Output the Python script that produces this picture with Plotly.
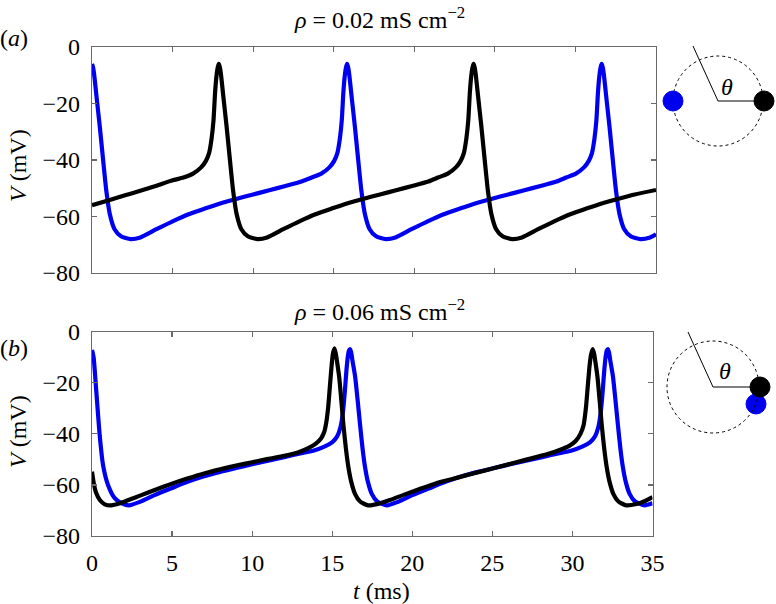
import plotly.graph_objects as go

# ---------------- data ----------------
# Panel (a): rho = 0.02 mS cm^-2
ta_blue = [0, 0.07, 0.15, 0.27, 0.48, 0.69, 0.89, 1.1, 1.4, 1.8, 2.4,
           3.0, 4.0, 5.0, 6.0, 7.0, 8.0, 9.0, 10.0, 11.0, 12.0, 13.0,
           13.63, 14.23, 14.73, 15.03, 15.23, 15.38, 15.5, 15.6, 15.68, 15.76, 15.83,
           15.9, 15.98, 16.1, 16.31, 16.52, 16.72, 16.93, 17.23, 17.63, 18.23,
           18.83, 19.83, 20.83, 21.83, 22.83, 23.83, 24.83, 25.83, 26.83, 27.83, 28.83,
           29.43, 30.03, 30.53, 30.83, 31.03, 31.18, 31.3, 31.4, 31.48, 31.56, 31.63,
           31.7, 31.78, 31.9, 32.11, 32.32, 32.52, 32.73, 33.03, 33.43, 34.03,
           34.63, 35.0]
va_blue = [-6, -7.3, -10.5, -17, -28, -40, -51, -59, -64.5, -67, -68,
           -67.4, -64.5, -61.7, -59.2, -57.2, -55.3, -53.7, -52.2, -50.7, -49.2, -47.6,
           -46.2, -44.8, -42.6, -40.3, -37.5, -32.5, -26, -16, -10.5, -7.3, -6,
           -7.3, -10.5, -17, -28, -40, -51, -59, -64.5, -67, -68,
           -67.4, -64.5, -61.7, -59.2, -57.2, -55.3, -53.7, -52.2, -50.7, -49.2, -47.6,
           -46.2, -44.8, -42.6, -40.3, -37.5, -32.5, -26, -16, -10.5, -7.3, -6,
           -7.3, -10.5, -17, -28, -40, -51, -59, -64.5, -67, -68,
           -67.4, -66.3]

ta_black = [0, 1.0, 2.0, 3.0, 4.0, 5.0,
            5.67, 6.27, 6.77, 7.07, 7.27, 7.42, 7.54, 7.64, 7.72, 7.8, 7.87,
            7.94, 8.02, 8.14, 8.35, 8.56, 8.76, 8.97, 9.27, 9.67, 10.27,
            10.87, 11.87, 12.87, 13.87, 14.87, 15.87, 16.87, 17.87, 18.87, 19.87, 20.87,
            21.48, 22.08, 22.58, 22.88, 23.08, 23.23, 23.35, 23.45, 23.53, 23.61, 23.68,
            23.75, 23.83, 23.95, 24.16, 24.37, 24.57, 24.78, 25.08, 25.48, 26.08,
            26.68, 27.68, 28.68, 29.68, 30.68, 31.68, 32.68, 33.68, 35.0]
va_black = [-56, -54.3, -52.6, -50.9, -49.1, -47.2,
            -46.2, -44.8, -42.6, -40.3, -37.5, -32.5, -26, -16, -10.5, -7.3, -6,
            -7.3, -10.5, -17, -28, -40, -51, -59, -64.5, -67, -68,
            -67.4, -64.5, -61.7, -59.2, -57.2, -55.3, -53.7, -52.2, -50.7, -49.2, -47.6,
            -46.2, -44.8, -42.6, -40.3, -37.5, -32.5, -26, -16, -10.5, -7.3, -6,
            -7.3, -10.5, -17, -28, -40, -51, -59, -64.5, -67, -68,
            -67.4, -64.5, -61.7, -59.2, -57.2, -55.3, -53.7, -52.2, -50.6]

# Panel (b): rho = 0.06 mS cm^-2
tb_blue = [0, 0.1, 0.27, 0.48, 0.69, 1.0, 1.42, 1.8, 2.3,
           3.0, 3.9, 5.0, 6.0, 7.0, 8.0, 9.0, 10.0, 11.0, 12.0, 13.0,
           13.81, 14.51, 15.01, 15.31, 15.51, 15.66, 15.78, 15.89, 15.98, 16.05, 16.11,
           16.18, 16.27, 16.43, 16.59, 16.74, 16.9, 17.05, 17.23, 17.47, 17.81, 18.41,
           19.11, 20.01, 21.11, 22.11, 23.11, 24.11, 25.11, 26.11, 27.11, 28.11, 29.11,
           29.91, 30.61, 31.11, 31.41, 31.61, 31.76, 31.88, 31.99, 32.08, 32.15, 32.21,
           32.28, 32.37, 32.53, 32.69, 32.84, 33.0, 33.15, 33.33, 33.57, 33.91, 34.51,
           35.0]
vb_blue = [-7.2, -10, -23.5, -40.5, -52.2, -60, -65.2, -67, -68,
           -66.6, -64, -61.2, -58.7, -56.6, -54.9, -53.4, -51.9, -50.5, -49.1, -47.7,
           -46.6, -45, -43.2, -41, -37.5, -32, -24, -15, -9.5, -7.3, -6.8,
           -8, -11.5, -17.5, -27, -36.5, -46, -53, -58.8, -63.5, -66.5, -68,
           -66.6, -64, -61.2, -58.7, -56.6, -54.9, -53.4, -51.9, -50.5, -49.1, -47.7,
           -46.6, -45, -43.2, -41, -37.5, -32, -24, -15, -9.5, -7.3, -6.8,
           -8, -11.5, -17.5, -27, -36.5, -46, -53, -58.8, -63.5, -66.5, -68,
           -67.2]

tb_black = [0, 0.1, 0.25, 0.5, 0.8, 1.2, 1.7, 2.4, 3.0, 4.0, 5.0, 6.0, 7.0, 8.0,
            9.0, 10.0, 11.0, 12.0,
            12.9, 13.5, 14.0, 14.3, 14.5, 14.63, 14.75, 14.86, 14.96, 15.04, 15.14,
            15.23, 15.32, 15.44, 15.57, 15.7, 15.86, 16.01, 16.19, 16.43, 16.74, 17.24,
            17.8, 18.6, 19.5, 20.5, 21.5, 22.5, 23.5, 24.5, 25.5, 26.5, 27.5, 28.5,
            29.2, 29.8, 30.2, 30.5, 30.7, 30.84, 30.95, 31.06, 31.16, 31.27,
            31.36, 31.45, 31.57, 31.7, 31.83, 31.99, 32.14, 32.32, 32.56, 32.87, 33.37,
            34.0, 34.5, 35.0]
vb_black = [-54.8, -59, -63, -66, -67.6, -68, -67.3, -65.6, -64.2, -61.8, -59.5, -57.4,
            -55.5, -53.9, -52.4, -51.1, -49.8, -48.6,
            -47.2, -45.6, -43.7, -41.8, -39.3, -35.5, -29.5, -21, -13.5, -8.8, -6.5,
            -8.8, -12.5, -18, -27, -36.5, -46, -53, -58.8, -63.6, -66.5, -68,
            -67.5, -65.9, -63.8, -61.5, -59.3, -57.7, -56, -54.4, -52.8, -51.1, -49.5, -47.8,
            -46.3, -44.7, -42.8, -40, -36.5, -30, -22, -14, -9, -6.8,
            -8.8, -12.5, -18, -27, -36.5, -46, -53, -58.8, -63.6, -66.5, -68,
            -67.5, -66.4, -64.8]

x_ticks = [0, 5, 10, 15, 20, 25, 30, 35]
y_ticks = [-80, -60, -40, -20, 0]
panel_titles = ["<i>ρ</i> = 0.02 mS cm<sup>−2</sup>", "<i>ρ</i> = 0.06 mS cm<sup>−2</sup>"]
panel_letters = ["(<i>a</i>)", "(<i>b</i>)"]

for a, b in [(ta_blue, va_blue), (ta_black, va_black), (tb_blue, vb_blue), (tb_black, vb_black)]:
    assert len(a) == len(b), (len(a), len(b))

# ---------------- figure ----------------
W, H = 776, 604
def px(x):
    return x / W
def py(y):
    return 1 - y / H

BLUE = "#0000f0"
BLACK = "#000000"
FRAME = "#6a6a6a"
FONT = "Liberation Serif"
FS = 24
LW = 4.2

def trace_line(color):
    return dict(color=color, width=LW, shape="spline", smoothing=0.6)

fig = go.Figure()
fig.add_trace(go.Scatter(x=ta_blue, y=va_blue, mode="lines", line=trace_line(BLUE),
                         xaxis="x", yaxis="y", showlegend=False, hoverinfo="skip"))
fig.add_trace(go.Scatter(x=ta_black, y=va_black, mode="lines", line=trace_line(BLACK),
                         xaxis="x", yaxis="y", showlegend=False, hoverinfo="skip"))
fig.add_trace(go.Scatter(x=tb_blue, y=vb_blue, mode="lines", line=trace_line(BLUE),
                         xaxis="x2", yaxis="y2", showlegend=False, hoverinfo="skip"))
fig.add_trace(go.Scatter(x=tb_black, y=vb_black, mode="lines", line=trace_line(BLACK),
                         xaxis="x2", yaxis="y2", showlegend=False, hoverinfo="skip"))

axis_common = dict(showgrid=False, zeroline=False, showline=True, linecolor=FRAME, linewidth=1.2,
                   mirror="ticks", ticks="inside", ticklen=5, tickwidth=1.2, tickcolor=FRAME,
                   automargin=False,
                   tickfont=dict(family=FONT, size=FS, color="black"))

fig.update_layout(
    width=W, height=H,
    margin=dict(l=0, r=0, t=0, b=0, autoexpand=False),
    paper_bgcolor="white", plot_bgcolor="white",
    font=dict(family=FONT, size=FS, color="black"),
    xaxis=dict(domain=[px(92), px(656)], anchor="y", range=[0, 35], tickvals=x_ticks,
               showticklabels=False, **axis_common),
    yaxis=dict(domain=[py(273), py(47)], anchor="x", range=[-80, 0], tickvals=y_ticks,
               ticklabelstandoff=6, **axis_common),
    xaxis2=dict(domain=[px(92), px(652.5)], anchor="y2", range=[0, 35], tickvals=x_ticks,
                ticklabelstandoff=5, **axis_common),
    yaxis2=dict(domain=[py(536), py(331.7)], anchor="x2", range=[-80, 0], tickvals=y_ticks,
                ticklabelstandoff=6, **axis_common),
)

ann = []
def add_text(text, x, y, size=FS, angle=0, xanchor="center"):
    ann.append(dict(text=text, x=px(x), y=py(y), xref="paper", yref="paper", showarrow=False,
                    xanchor=xanchor, yanchor="middle", textangle=angle,
                    font=dict(family=FONT, size=size, color="black")))

add_text(panel_titles[0], 379, 18)
add_text(panel_titles[1], 379, 310)
add_text(panel_letters[0], 14, 38)
add_text(panel_letters[1], 14, 348)
add_text("<i>V</i> (mV)", 18, 166, angle=-90)
add_text("<i>V</i> (mV)", 18, 432, angle=-90)
add_text("<i>t</i> (ms)", 381, 591)
add_text("<i>θ</i>", 727, 87)
add_text("<i>θ</i>", 725, 371)
fig.update_layout(annotations=ann)

shapes = []
def circle(cx, cy, r, **kw):
    shapes.append(dict(type="circle", xref="paper", yref="paper",
                       x0=px(cx - r), x1=px(cx + r), y0=py(cy + r), y1=py(cy - r), layer="above", **kw))
def seg(x0, y0, x1, y1):
    shapes.append(dict(type="line", xref="paper", yref="paper", x0=px(x0), y0=py(y0),
                       x1=px(x1), y1=py(y1), line=dict(color="black", width=1), layer="above"))

# diagram (a)
circle(718, 101, 45, line=dict(color="black", width=1, dash="3px,3px"))
seg(718, 101, 763, 101)
seg(718, 101, 693, 46)
circle(673, 101, 10, fillcolor=BLUE, line=dict(color=BLUE, width=1))
circle(764, 101, 10, fillcolor=BLACK, line=dict(color=BLACK, width=1))

# diagram (b)
circle(756, 404, 10, fillcolor=BLUE, line=dict(color=BLUE, width=1))
circle(713, 387, 46, line=dict(color="black", width=1, dash="3px,3px"))
seg(713, 387, 759, 387)
seg(713, 387, 688, 332)
circle(760, 387, 10, fillcolor=BLACK, line=dict(color=BLACK, width=1))
fig.update_layout(shapes=shapes)

fig.write_html("out.html", config={"displayModeBar": False, "staticPlot": True},
               post_script="document.body.style.margin='0';document.body.style.overflow='hidden';")
